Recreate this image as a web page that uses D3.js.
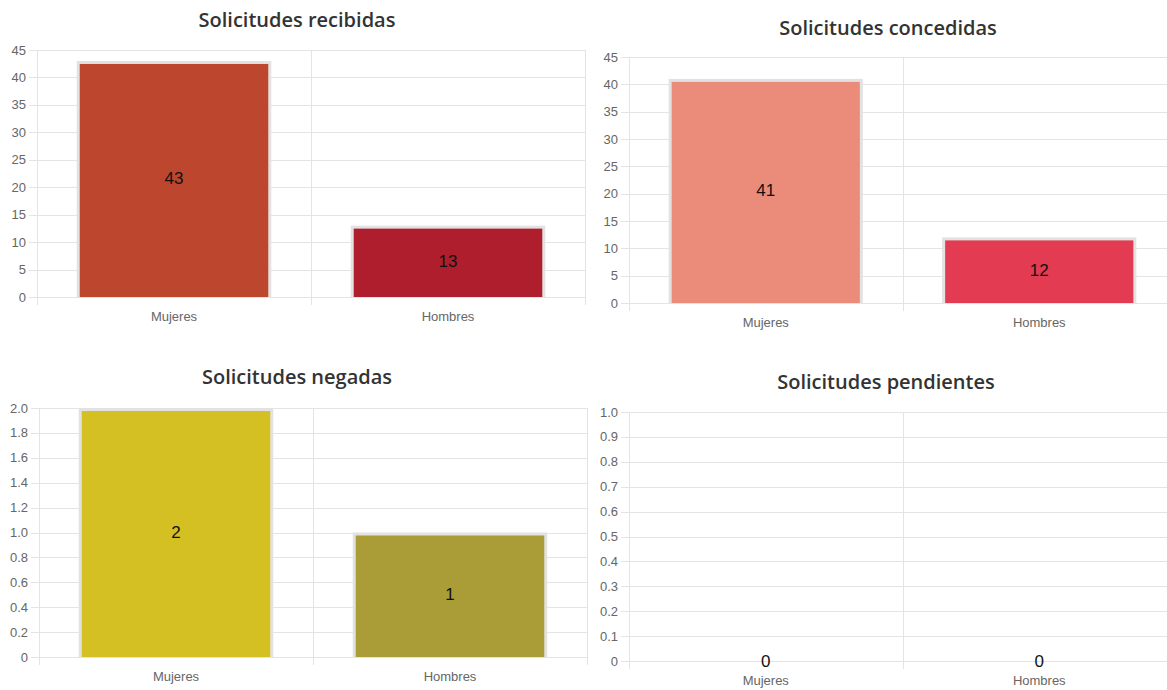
<!DOCTYPE html>
<html>
<head>
<meta charset="utf-8">
<script src="https://cdnjs.cloudflare.com/ajax/libs/d3/7.8.5/d3.min.js"></script>
<style>
  html, body { margin: 0; padding: 0; background: #fff; }
  svg { display: block; }
</style>
</head>
<body>
<svg id="chart" width="1167" height="690"></svg>
<script>
// ---- data ----
const categories = ["Mujeres", "Hombres"];
const titles = ["Solicitudes recibidas", "Solicitudes concedidas", "Solicitudes negadas", "Solicitudes pendientes"];
const recibidas = [43, 13];
const concedidas = [41, 12];
const negadas = [2, 1];
const pendientes = [0, 0];
const yMaxes = [45, 45, 2, 1];
const tickRecibidas = [0, 5, 10, 15, 20, 25, 30, 35, 40, 45];
const tickConcedidas = [0, 5, 10, 15, 20, 25, 30, 35, 40, 45];
const tickNegadas = [0, 0.2, 0.4, 0.6, 0.8, 1.0, 1.2, 1.4, 1.6, 1.8, 2.0];
const tickPendientes = [0, 0.1, 0.2, 0.3, 0.4, 0.5, 0.6, 0.7, 0.8, 0.9, 1.0];
const colorsRecibidas = ["#bd462e", "#af1e2c"];
const colorsConcedidas = ["#eb8c7a", "#e23b52"];
const colorsNegadas = ["#d5c023", "#aa9c36"];
const colorsPendientes = ["#cccccc", "#cccccc"];

// ---- layout ----
const panels = [
  { title: titles[0], values: recibidas, ticks: tickRecibidas, colors: colorsRecibidas, yMax: yMaxes[0],
    left: 37, right: 585, top: 50, bottom: 297, titleX: 297, titleY: 19, decimals: false },
  { title: titles[1], values: concedidas, ticks: tickConcedidas, colors: colorsConcedidas, yMax: yMaxes[1],
    left: 629, right: 1176, top: 57, bottom: 303, titleX: 888, titleY: 27, decimals: false },
  { title: titles[2], values: negadas, ticks: tickNegadas, colors: colorsNegadas, yMax: yMaxes[2],
    left: 39, right: 587, top: 408, bottom: 657, titleX: 297, titleY: 376, decimals: true },
  { title: titles[3], values: pendientes, ticks: tickPendientes, colors: colorsPendientes, yMax: yMaxes[3],
    left: 629, right: 1176, top: 412, bottom: 661, titleX: 886, titleY: 381, decimals: true }
];

const svg = d3.select("#chart");
const gridColor = "#e4e4e4";
const tickFont = "'Liberation Sans', Arial, sans-serif";

panels.forEach(p => {
  const g = svg.append("g");
  const x = d3.scaleBand().domain(categories).range([p.left, p.right]).paddingInner(0).paddingOuter(0);
  const y = d3.scaleLinear().domain([0, p.yMax]).range([p.bottom, p.top]);
  const fmt = v => v === 0 ? "0" : (p.decimals ? d3.format(".1f")(v) : d3.format("d")(v));

  // title
  g.append("text")
    .attr("x", p.titleX).attr("y", p.titleY)
    .attr("text-anchor", "middle").attr("dominant-baseline", "central")
    .attr("font-family", "'Open Sans', sans-serif").attr("font-weight", 600)
    .attr("font-size", 20).attr("fill", "#333")
    .text(p.title);

  // horizontal grid + tick marks
  g.selectAll("line.hgrid").data(p.ticks).enter().append("line")
    .attr("x1", p.left - 8).attr("x2", p.right)
    .attr("y1", d => Math.round(y(d)) + 0.5).attr("y2", d => Math.round(y(d)) + 0.5)
    .attr("stroke", gridColor).attr("stroke-width", 1);

  // vertical grid lines (category boundaries)
  const vlines = [p.left, p.left + x.bandwidth(), p.right];
  g.selectAll("line.vgrid").data(vlines).enter().append("line")
    .attr("x1", d => Math.round(d) + 0.5).attr("x2", d => Math.round(d) + 0.5)
    .attr("y1", p.top).attr("y2", p.bottom + 8)
    .attr("stroke", gridColor).attr("stroke-width", 1);

  // y tick labels
  g.selectAll("text.ytick").data(p.ticks).enter().append("text")
    .attr("x", p.left - 11).attr("y", d => y(d))
    .attr("text-anchor", "end").attr("dominant-baseline", "central")
    .attr("font-family", tickFont).attr("font-size", 13).attr("fill", "#666")
    .text(fmt);

  // x labels
  g.selectAll("text.xtick").data(categories).enter().append("text")
    .attr("x", d => x(d) + x.bandwidth() / 2).attr("y", p.bottom + 19)
    .attr("text-anchor", "middle").attr("dominant-baseline", "central")
    .attr("font-family", tickFont).attr("font-size", 13).attr("fill", "#666")
    .text(d => d);

  // bars
  const barW = x.bandwidth() * 0.71;
  const bw = 3;
  categories.forEach((c, i) => {
    const v = p.values[i];
    if (v <= 0) return;
    const cx = x(c) + x.bandwidth() / 2;
    const x0 = cx - barW / 2;
    const yTop = y(v);
    g.append("rect")
      .attr("x", x0).attr("y", yTop).attr("width", barW).attr("height", p.bottom - yTop)
      .attr("fill", "#e2e2e2");
    g.append("rect")
      .attr("x", x0 + bw).attr("y", yTop + bw).attr("width", barW - 2 * bw).attr("height", p.bottom - yTop - bw)
      .attr("fill", p.colors[i]);
  });

  // value labels
  categories.forEach((c, i) => {
    const v = p.values[i];
    const cx = x(c) + x.bandwidth() / 2;
    g.append("text")
      .attr("x", cx).attr("y", (y(v) + p.bottom) / 2)
      .attr("text-anchor", "middle").attr("dominant-baseline", "central")
      .attr("font-family", tickFont).attr("font-size", 17).attr("fill", "#111")
      .text(d3.format("d")(v));
  });
});
</script>
</body>
</html>
